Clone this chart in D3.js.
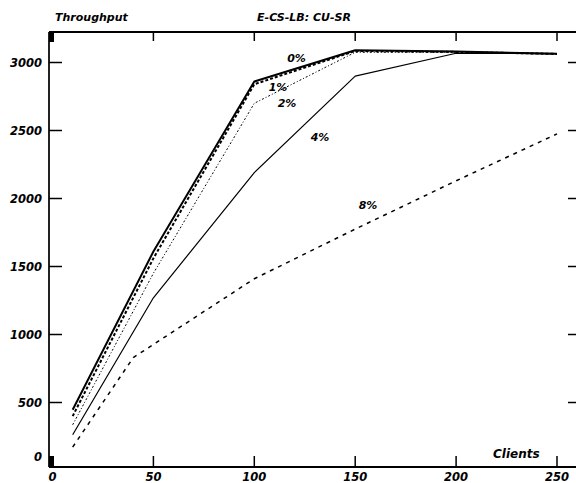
<!DOCTYPE html>
<html><head><meta charset="utf-8">
<script src="https://cdn.jsdelivr.net/npm/d3@7"></script>
<style>
html,body{margin:0;padding:0;background:#fff;}
text{font-family:"DejaVu Sans",sans-serif;font-style:italic;font-weight:bold;fill:#000;}
</style></head>
<body><svg id="c" width="576" height="483"></svg>
<script>
const xTicks = [0, 50, 100, 150, 200, 250];
const yTicks = [0, 500, 1000, 1500, 2000, 2500, 3000];
const clients = [10, 50, 100, 150, 200, 250];
const clients8 = [10, 40, 100, 150, 200, 250];
const load0 = [447, 1610, 2860, 3090, 3080, 3065];
const load1 = [400, 1560, 2840, 3085, 3078, 3063];
const load2 = [336, 1450, 2700, 3075, 3075, 3062];
const load4 = [263, 1270, 2190, 2900, 3068, 3065];
const load8 = [172, 830, 1410, 1775, 2130, 2475];
const seriesNames = ["0%", "1%", "2%", "4%", "8%"];

(function () {
const svg = d3.select("#c");
const x = d3.scaleLinear().domain([0, 250]).range([52.5, 557]);
const y = d3.scaleLinear().domain([0, 3000]).range([470.5, 62.5]);
const L = 49, T = 32, B = 467, R = 581;

// frame
svg.append("line").attr("x1", L).attr("x2", 576).attr("y1", T).attr("y2", T).attr("stroke", "#000").attr("stroke-width", 2);
svg.append("line").attr("x1", L).attr("x2", 576).attr("y1", B).attr("y2", B).attr("stroke", "#000").attr("stroke-width", 2);
svg.append("line").attr("x1", L).attr("x2", L).attr("y1", T).attr("y2", B).attr("stroke", "#222").attr("stroke-width", 2);
svg.append("rect").attr("x", L).attr("y", T).attr("width", 5).attr("height", 10).attr("fill", "#000");
svg.append("rect").attr("x", L).attr("y", 456).attr("width", 5).attr("height", 11).attr("fill", "#000");

// y ticks (left & right), labels
const gy = svg.append("g");
yTicks.filter(v => v > 0).forEach(v => {
  gy.append("line").attr("x1", L).attr("x2", L + 13).attr("y1", y(v)).attr("y2", y(v)).attr("stroke", "#000").attr("stroke-width", 1.5);
  gy.append("line").attr("x1", R - 13).attr("x2", R).attr("y1", y(v)).attr("y2", y(v)).attr("stroke", "#000").attr("stroke-width", 1.5);
});
yTicks.forEach(v => {
  gy.append("text").attr("x", 42).attr("y", v === 0 ? 461 : y(v) + 4).attr("text-anchor", "end").attr("font-size", 11.5).text(v);
});
// x ticks top & bottom
xTicks.filter(v => v > 0).forEach(v => {
  svg.append("line").attr("x1", x(v)).attr("x2", x(v)).attr("y1", T).attr("y2", T + 9).attr("stroke", "#000").attr("stroke-width", 1.5);
  svg.append("line").attr("x1", x(v)).attr("x2", x(v)).attr("y1", B).attr("y2", B - 11).attr("stroke", "#000").attr("stroke-width", 1.5);
});
xTicks.forEach(v => {
  svg.append("text").attr("x", x(v)).attr("y", 481).attr("text-anchor", "middle").attr("font-size", 11.5).text(v);
});

// titles
svg.append("text").attr("x", 55).attr("y", 21).attr("font-size", 11).text("Throughput");
svg.append("text").attr("x", 304).attr("y", 21).attr("text-anchor", "middle").attr("font-size", 11).text("E-CS-LB: CU-SR");
svg.append("text").attr("x", 493).attr("y", 458).attr("font-size", 12).text("Clients");

// series
const line = d3.line().x(d => x(d[0])).y(d => y(d[1]));
const series = [
  {xs: clients, ys: load0, w: 2, dash: null},
  {xs: clients, ys: load1, w: 2, dash: "3,2"},
  {xs: clients, ys: load2, w: 1, dash: "2,2,1,2"},
  {xs: clients, ys: load4, w: 1.2, dash: null},
  {xs: clients8, ys: load8, w: 1.5, dash: "4,5"}
];
series.forEach(s => {
  svg.append("path").datum(s.xs.map((c, i) => [c, s.ys[i]]))
    .attr("d", line).attr("fill", "none").attr("stroke", "#000")
    .attr("stroke-width", s.w).attr("stroke-dasharray", s.dash)
    .attr("stroke-linejoin", "round");
});

// series labels
const labelXY = [[296.5, 62], [278, 91], [287, 107], [320, 141], [368, 209]];
seriesNames.forEach((n, i) => {
  svg.append("text").attr("x", labelXY[i][0]).attr("y", labelXY[i][1]).attr("text-anchor", "middle").attr("font-size", 11).text(n);
});
})();
</script>
</body></html>
